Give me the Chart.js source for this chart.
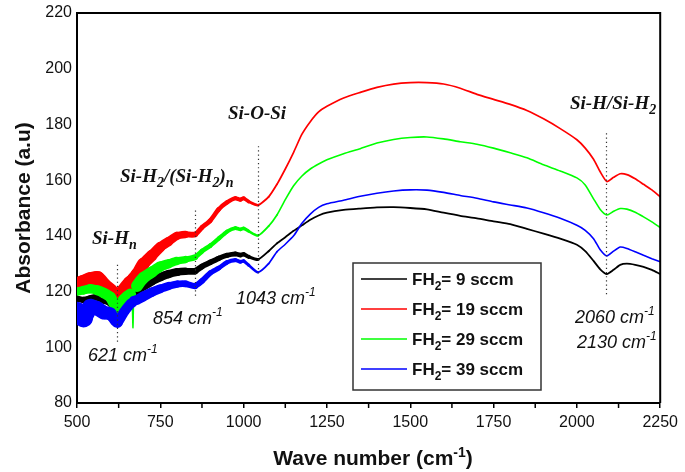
<!DOCTYPE html>
<html>
<head>
<meta charset="utf-8">
<script src="https://cdn.jsdelivr.net/npm/chart.js@4.4.1/dist/chart.umd.min.js"></script>
<style>
  html, body { margin: 0; padding: 0; background: #fff; }
  #wrap { width: 685px; height: 472px; }
</style>
</head>
<body>
<div id="wrap"><canvas id="ftirChart" width="685" height="472"></canvas></div>
<script>
// FTIR absorbance spectra, a-Si:H films at four H2 flows
const wavenumbers = [500, 520, 540, 560, 580, 600, 621, 640, 660, 665, 668, 671, 680, 700, 725, 750, 775, 800, 825, 854,
  875, 900, 925, 950, 975, 990, 1000, 1015, 1043, 1075, 1100, 1125, 1150, 1175, 1200, 1225, 1250, 1300, 1350, 1400,
  1450, 1500, 1550, 1600, 1650, 1700, 1750, 1800, 1850, 1900, 1950, 2000, 2025, 2050, 2070, 2090, 2110, 2130, 2150, 2175,
  2200, 2225, 2250];

const absFH9 = [117.5, 117, 117.5, 118, 117, 116, 113, 115.5, 118, 118.5, 119, 119.5, 120.5, 122, 123.8, 125.2, 126.3, 127, 127.3, 127.3,
  129, 130.5, 131.9, 133, 133.5, 133.1, 133.4, 132.5, 131.5, 134.5, 137.3, 139.5, 141.8, 143.8, 145.8, 147.3, 148.3, 149.3, 149.8, 150.2,
  150.3, 150, 149.5, 148.3, 147.2, 146.3, 145.2, 144.2, 142.5, 140.8, 139, 136.8, 134.5, 131, 128, 126.3, 127.8, 129.6, 130, 129.6,
  128.9, 127.8, 126.3];

const absFH19 = [122, 123, 124, 124.5, 122, 120, 117, 120, 123, 123.5, 124, 124.5, 126, 130, 133, 136, 138, 140, 140.5, 140.5,
  143, 145.5, 149.5, 152, 153.5, 153, 153.5, 152.3, 151, 154, 158.5, 164, 170, 176.5, 181, 184.5, 186.5, 189.5, 191.5, 193.3,
  194.5, 195, 195, 194.5, 193, 190.8, 189, 187.2, 185, 182, 178.5, 174.5, 171.5, 167.5, 163, 159.5, 161, 162.3, 162, 160.5,
  158.5, 156.5, 154];

const absFH29 = [120, 120.5, 121, 120.5, 119.5, 118, 114, 117, 119, 118.5, 107, 119.5, 122, 125, 127, 129, 130, 131, 131.5, 132.3,
  134.5, 136.5, 139, 141.5, 142.8, 142.3, 142.7, 141.7, 140.1, 143.5, 147.5, 153, 158, 161.5, 164, 165.8, 167.3, 169.5, 171.3, 173.3,
  174.6, 175.3, 175.5, 174.8, 173.8, 172.9, 171.5, 169.8, 168, 165.5, 163.3, 160.8, 158.3, 153.3, 149.5, 147.5, 148.8, 149.8, 149.6, 148.5,
  146.8, 145, 143];

const absFH39 = [113, 110.5, 114.5, 114, 112.5, 112, 109, 112.5, 115.5, 116, 116.3, 116.7, 117, 118.3, 119.8, 121, 122, 122.7, 122.8, 122,
  123.8, 126.7, 128.4, 130.5, 131.3, 130.7, 131, 129.5, 126.9, 130, 134.3, 137, 140, 144.5, 147.8, 150.2, 151.5, 152.8, 154.2, 155.3,
  156.1, 156.5, 156.4, 155.6, 154.5, 153.5, 152.2, 151.1, 150, 148.3, 146.3, 143.8, 142, 139, 135, 132.8, 134.5, 136, 135.5, 134.3,
  133, 131.8, 130.7];

const seriesLabels = ['9', '19', '29', '39'];
const xTicks = [500, 750, 1000, 1250, 1500, 1750, 2000, 2250];
const yTicks = [80, 100, 120, 140, 160, 180, 200, 220];

// noisy low-wavenumber region is drawn as a thicker band: [wavenumber, px width]
const bandRed = [[500, 17], [650, 15], [700, 12], [750, 10], [800, 8], [860, 5], [1000, 4], [1045, 2], [1100, 1.7]];
const bandGreen = [[500, 8], [600, 11], [700, 12], [750, 10], [800, 8], [860, 5], [1000, 3.5], [1045, 2], [1100, 1.6]];
const bandBlack = [[500, 6], [621, 8], [700, 9], [800, 8], [860, 6], [1000, 4.5], [1050, 2], [1100, 1.8]];
const bandBlue = [[500, 20], [540, 15], [600, 13], [621, 10], [700, 10], [800, 7], [860, 6], [1000, 3.5], [1045, 2], [1100, 1.6]];

function widthAt(table, x) {
  if (x <= table[0][0]) return table[0][1];
  for (let i = 1; i < table.length; i++) {
    if (x <= table[i][0]) {
      const [x0, w0] = table[i - 1], [x1, w1] = table[i];
      return w0 + (w1 - w0) * (x - x0) / (x1 - x0);
    }
  }
  return table[table.length - 1][1];
}

function makeSet(values, color, band, order, thinRange) {
  return {
    label: 'FH2',
    data: wavenumbers.map((x, i) => ({ x: x, y: values[i] })),
    borderColor: color,
    borderWidth: 1.6,
    borderCapStyle: 'round',
    borderJoinStyle: 'round',
    pointRadius: 0,
    tension: 0.2,
    order: order,
    segment: {
      borderWidth: ctx => {
        const a = ctx.p0.parsed.x, b = ctx.p1.parsed.x;
        if (thinRange && b > thinRange[0] && a < thinRange[1]) return 1.5;
        return widthAt(band, (a + b) / 2);
      }
    }
  };
}

// annotations, in data coordinates
const dottedLines = [[621, 129.6, 101.3], [854, 149.1, 117.6], [1043, 172.2, 126.4], [2086, 176.8, 118.3]];

const serif = 'bold italic 19px "Liberation Serif", "Times New Roman", serif';
const serifSmall = 'bold italic 14px "Liberation Serif", "Times New Roman", serif';
const sansIt = 'italic 18px "Liberation Sans", Arial, sans-serif';
const sansItSmall = 'italic 12px "Liberation Sans", Arial, sans-serif';

function drawRich(ctx, parts, x, y, font, smallFont) {
  ctx.textAlign = 'left';
  ctx.textBaseline = 'alphabetic';
  let cx = x;
  parts.forEach(p => {
    ctx.font = p.s ? smallFont : font;
    const dy = p.s === 'sub' ? 5 : (p.s === 'sup' ? -8 : 0);
    ctx.fillText(p.t, cx, y + dy);
    cx += ctx.measureText(p.t).width;
  });
  return cx;
}

const decorPlugin = {
  id: 'decor',
  afterDraw(chart) {
    const { ctx, chartArea: ca, scales } = chart;
    const xs = scales.x, ys = scales.y;
    ctx.save();

    // frame top and right
    ctx.strokeStyle = '#000';
    ctx.lineWidth = 2;
    ctx.beginPath();
    ctx.moveTo(ca.left, ca.top);
    ctx.lineTo(ca.right, ca.top);
    ctx.lineTo(ca.right, ca.bottom);
    ctx.stroke();

    // minor ticks
    ctx.lineWidth = 1.5;
    for (let v = 625; v < 2250; v += 250) {
      const px = xs.getPixelForValue(v);
      ctx.beginPath();
      ctx.moveTo(px, ca.bottom);
      ctx.lineTo(px, ca.bottom + 5);
      ctx.stroke();
    }

    // dotted guides
    ctx.strokeStyle = '#333';
    ctx.lineWidth = 1.2;
    ctx.setLineDash([1.2, 3]);
    dottedLines.forEach(([w, y0, y1]) => {
      const px = Math.round(xs.getPixelForValue(w)) + 0.5;
      ctx.beginPath();
      ctx.moveTo(px, ys.getPixelForValue(y0));
      ctx.lineTo(px, ys.getPixelForValue(y1));
      ctx.stroke();
    });
    ctx.setLineDash([]);

    // band labels
    ctx.fillStyle = '#111';
    drawRich(ctx, [{ t: 'Si-H' }, { t: 'n', s: 'sub' }], 92, 244, serif, serifSmall);
    drawRich(ctx, [{ t: 'Si-H' }, { t: '2', s: 'sub' }, { t: '/(Si-H' }, { t: '2', s: 'sub' }, { t: ')' }, { t: 'n', s: 'sub' }], 120, 182, serif, serifSmall);
    drawRich(ctx, [{ t: 'Si-O-Si' }], 228, 119, serif, serifSmall);
    drawRich(ctx, [{ t: 'Si-H/Si-H' }, { t: '2', s: 'sub' }], 570, 109, serif, serifSmall);

    // wavenumber labels
    drawRich(ctx, [{ t: '621 cm' }, { t: '-1', s: 'sup' }], 88, 361, sansIt, sansItSmall);
    drawRich(ctx, [{ t: '854 cm' }, { t: '-1', s: 'sup' }], 153, 324, sansIt, sansItSmall);
    drawRich(ctx, [{ t: '1043 cm' }, { t: '-1', s: 'sup' }], 236, 304, sansIt, sansItSmall);
    drawRich(ctx, [{ t: '2060 cm' }, { t: '-1', s: 'sup' }], 575, 323, sansIt, sansItSmall);
    drawRich(ctx, [{ t: '2130 cm' }, { t: '-1', s: 'sup' }], 577, 348, sansIt, sansItSmall);

    // legend box
    const lx = 353, ly = 263, lw = 188, lh = 127;
    ctx.fillStyle = '#fff';
    ctx.fillRect(lx, ly, lw, lh);
    ctx.strokeStyle = '#333';
    ctx.lineWidth = 1.5;
    ctx.strokeRect(lx, ly, lw, lh);
    const legColors = ['#000000', '#ff0000', '#00ff00', '#0000ff'];
    const lf = 'bold 17px "Liberation Sans", Arial, sans-serif';
    const lfs = 'bold 12px "Liberation Sans", Arial, sans-serif';
    seriesLabels.forEach((s, i) => {
      const cy = 279 + i * 30;
      ctx.strokeStyle = legColors[i];
      ctx.lineWidth = 1.5;
      ctx.beginPath();
      ctx.moveTo(361, cy);
      ctx.lineTo(407, cy);
      ctx.stroke();
      ctx.fillStyle = '#111';
      drawRich(ctx, [{ t: 'FH' }, { t: '2', s: 'sub' }, { t: '= ' + s + ' sccm' }], 412, cy + 6, lf, lfs);
    });

    // axis titles
    ctx.fillStyle = '#111';
    ctx.save();
    ctx.translate(30, 208);
    ctx.rotate(-Math.PI / 2);
    ctx.font = 'bold 21px "Liberation Sans", Arial, sans-serif';
    ctx.textAlign = 'center';
    ctx.textBaseline = 'alphabetic';
    ctx.fillText('Absorbance (a.u)', 0, 0);
    ctx.restore();

    const tf = 'bold 21px "Liberation Sans", Arial, sans-serif';
    const tfs = 'bold 14px "Liberation Sans", Arial, sans-serif';
    ctx.font = tf;
    const w1 = ctx.measureText('Wave number (cm').width + ctx.measureText(')').width;
    ctx.font = tfs;
    const w2 = ctx.measureText('-1').width;
    drawRich(ctx, [{ t: 'Wave number (cm' }, { t: '-1', s: 'sup' }, { t: ')' }], 373 - (w1 + w2) / 2, 465, tf, tfs);

    ctx.restore();
  }
};

new Chart(document.getElementById('ftirChart').getContext('2d'), {
  type: 'line',
  data: {
    datasets: [
      makeSet(absFH9, '#000000', bandBlack, 3),
      makeSet(absFH19, '#ff0000', bandRed, 2),
      makeSet(absFH29, '#00ff00', bandGreen, 1, [662, 674]),
      makeSet(absFH39, '#0000ff', bandBlue, 0)
    ]
  },
  options: {
    responsive: false,
    animation: false,
    layout: { padding: { left: 0, right: 18, top: 8, bottom: 0 } },
    plugins: { legend: { display: false }, tooltip: { enabled: false } },
    scales: {
      x: {
        type: 'linear',
        min: 500,
        max: 2250,
        afterFit: s => { s.height = 69; },
        afterBuildTicks: s => { s.ticks = xTicks.map(v => ({ value: v })); },
        ticks: {
          padding: 7,
          color: '#111',
          font: { family: '"Liberation Sans", Arial, sans-serif', size: 16, lineHeight: 1 },
          maxRotation: 0,
          autoSkip: false,
          callback: v => String(v)
        },
        grid: { display: true, drawOnChartArea: false, drawTicks: true, tickLength: 5, color: '#000', lineWidth: 1.5 },
        border: { display: true, color: '#000', width: 2 }
      },
      y: {
        min: 80,
        max: 220,
        afterFit: s => { s.width = 77; },
        afterBuildTicks: s => { s.ticks = yTicks.map(v => ({ value: v })); },
        ticks: {
          padding: 5,
          color: '#111',
          font: { family: '"Liberation Sans", Arial, sans-serif', size: 16, lineHeight: 1 },
          callback: v => String(v)
        },
        grid: { display: false, drawTicks: false },
        border: { display: true, color: '#000', width: 2 }
      }
    }
  },
  plugins: [decorPlugin]
});
</script>
</body>
</html>
